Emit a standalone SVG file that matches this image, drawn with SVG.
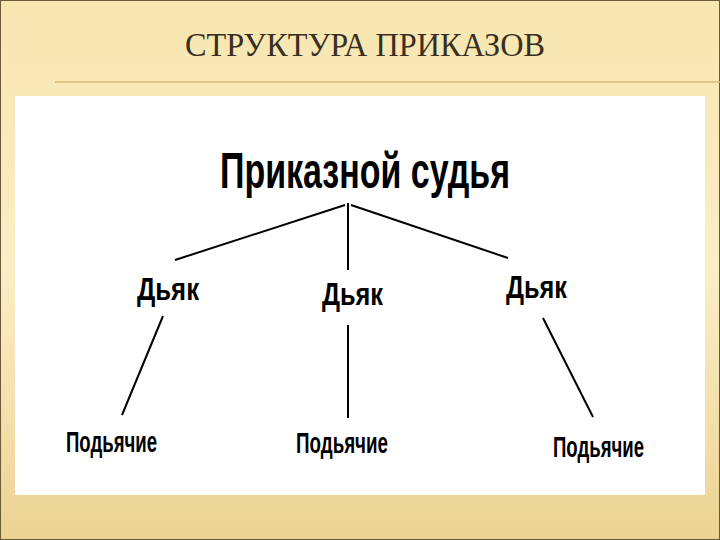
<svg xmlns="http://www.w3.org/2000/svg" width="720" height="540" viewBox="0 0 720 540">
<defs>
<linearGradient id="bg" x1="0" y1="0" x2="0" y2="1">
<stop offset="0" stop-color="#f7e6b0"/><stop offset="0.5" stop-color="#fbeec6"/><stop offset="1" stop-color="#ecd393"/>
</linearGradient>
<style>
.t{font-family:"Liberation Sans",Arial,sans-serif;font-weight:bold;fill:#000}
.c line{stroke:#000;stroke-width:2}
</style>
</defs>
<rect width="720" height="540" fill="url(#bg)"/>
<rect x="0.5" y="0.5" width="719" height="539" fill="none" stroke="#6b5a3a"/>
<text x="365" y="56" text-anchor="middle" font-family="Liberation Serif,serif" font-size="33" fill="#3a2f22" textLength="360" lengthAdjust="spacingAndGlyphs">СТРУКТУРА ПРИКАЗОВ</text>
<line x1="55" y1="82" x2="720" y2="82" stroke="#d9b978" stroke-width="1.5"/>
<rect x="15" y="96" width="690" height="399" fill="#fff"/>
<g class="c">
<line x1="345" y1="205" x2="175" y2="260"/>
<line x1="348" y1="203" x2="348" y2="270"/>
<line x1="351" y1="205" x2="508" y2="258"/>
<line x1="163" y1="316" x2="122" y2="415"/>
<line x1="348" y1="325" x2="348" y2="418"/>
<line x1="543" y1="318" x2="593" y2="417"/>
</g>
<g id="judge"><text class="t" x="220" y="188" font-size="50" textLength="290" lengthAdjust="spacingAndGlyphs">Приказной судья</text></g>
<g id="d1"><text class="t" x="137" y="300" font-size="31" textLength="62" lengthAdjust="spacingAndGlyphs">Дьяк</text></g>
<g id="d2"><text class="t" x="322" y="305" font-size="31" textLength="61" lengthAdjust="spacingAndGlyphs">Дьяк</text></g>
<g id="d3"><text class="t" x="506" y="298" font-size="31" textLength="61" lengthAdjust="spacingAndGlyphs">Дьяк</text></g>
<g id="p1"><text class="t" x="66" y="452" font-size="30" textLength="91" lengthAdjust="spacingAndGlyphs">Подьячие</text></g>
<g id="p2"><text class="t" x="296" y="453" font-size="30" textLength="92" lengthAdjust="spacingAndGlyphs">Подьячие</text></g>
<g id="p3"><text class="t" x="553" y="457" font-size="30" textLength="91" lengthAdjust="spacingAndGlyphs">Подьячие</text></g>
</svg>
